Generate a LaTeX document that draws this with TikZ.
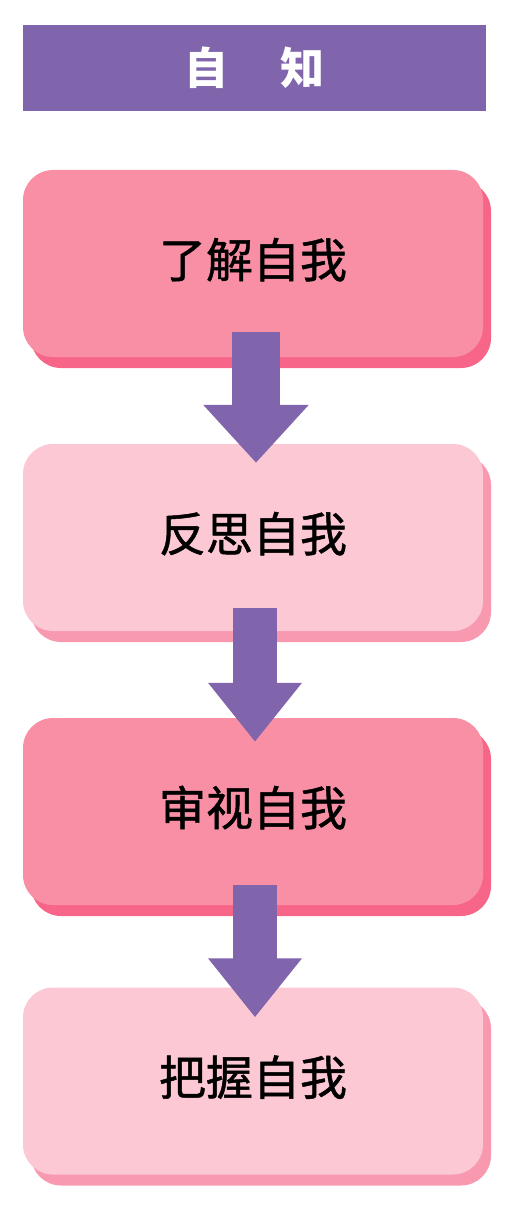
\documentclass[tikz,border=0pt]{standalone}
\usepackage{fontspec}
\usepackage{tikz}
\usetikzlibrary{calc,positioning,arrows.meta,shadows}
\newfontfamily\cjk{Noto Sans CJK SC}
\newfontfamily\cjkmed{Noto Sans CJK SC}[FakeBold=1]
\definecolor{violet}{RGB}{128,101,173}
\definecolor{rosedark}{RGB}{248,143,165}
\definecolor{roseshade}{RGB}{247,102,137}
\definecolor{roselight}{RGB}{252,200,212}
\definecolor{roselightshade}{RGB}{248,153,176}

\begin{document}
\begin{tikzpicture}[x=1pt, y=-1pt,
      header/.style={fill=violet, minimum width=463pt, minimum height=86pt, inner sep=0pt, text=white, font=\cjk\bfseries\fontsize{44}{44}\selectfont},
      stage/.style={minimum width=460pt, minimum height=187pt, rounded corners=30pt, inner sep=0pt, text height=38pt, text depth=10pt, font=\cjkmed\fontsize{47}{47}\selectfont},
      stagedark/.style={stage, fill=rosedark, drop shadow={shadow xshift=8pt, shadow yshift=-11pt, fill=roseshade, opacity=1}},
      stagelight/.style={stage, fill=roselight, drop shadow={shadow xshift=8pt, shadow yshift=-11pt, fill=roselightshade, opacity=1}},
      flowarrow/.style={draw=violet, line width=44pt, -{Triangle[width=90pt,length=59pt]}}]
      \useasboundingbox (0,0) rectangle (529,1225);
      \node[header] (title) at (254.5,68) {自\hspace{52pt}知};
      \node[stagedark] (know) at (253,263.5) {了解自我};
      \node[stagelight] (reflect) at (253,537.5) {反思自我};
      \node[stagedark] (examine) at (253,811.5) {审视自我};
      \node[stagelight] (grasp) at (253,1081) {把握自我};
      \draw[flowarrow, line width=48pt, -{Triangle[width=102pt,length=58pt]}] ([xshift=3pt,yshift=25pt]know.south) -- ([xshift=3pt,yshift=-19pt]reflect.north);
      \draw[flowarrow] ([xshift=2pt,yshift=23pt]reflect.south) -- ([xshift=2pt,yshift=-24pt]examine.north);
      \draw[flowarrow] ([xshift=2pt,yshift=20pt]examine.south) -- ([xshift=2pt,yshift=-30pt]grasp.north);
\end{tikzpicture}
\end{document}
